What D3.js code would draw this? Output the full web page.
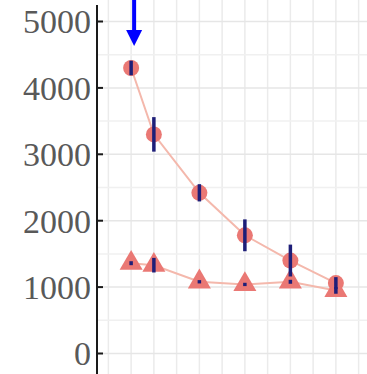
<!DOCTYPE html>
<html>
<head>
  <script src="https://cdnjs.cloudflare.com/ajax/libs/d3/7.8.5/d3.min.js"></script>
  <style>
    body { margin: 0; background: #fff; }
  </style>
</head>
<body>
<script>
  // data
  var xVals = [0, 1, 3, 5, 7, 9];
  var circleVals = [4300, 3300, 2420, 1780, 1400, 1060];
  var circleErr = [110, 260, 130, 240, 240, 90];
  var triVals = [1360, 1330, 1080, 1040, 1080, 950];
  var triErr = [30, 110, 25, 25, 30, 50];
  var yTicks = [0, 1000, 2000, 3000, 4000, 5000];

  var w = 367, h = 374;

  var svg = d3.select("body").append("svg")
    .attr("width", w)
    .attr("height", h);

  var x = d3.scaleLinear().domain([-1.5, 10.5]).range([97, 370]);
  var y = d3.scaleLinear().domain([0, 5000]).range([353.5, 21.5]);

  // grid
  var grid = svg.append("g");
  grid.selectAll("line.v")
    .data(d3.range(-1, 11))
    .enter().append("line")
    .attr("x1", d => x(d)).attr("x2", d => x(d))
    .attr("y1", 0).attr("y2", h)
    .attr("stroke", "#ebebeb")
    .attr("stroke-width", 1.5);
  grid.selectAll("line.h")
    .data(d3.range(0, 5001, 500))
    .enter().append("line")
    .attr("x1", 97).attr("x2", w)
    .attr("y1", d => y(d)).attr("y2", d => y(d))
    .attr("stroke", d => d % 1000 == 0 ? "#e6e6e6" : "#f0f0f0")
    .attr("stroke-width", 1.5);

  var circData = xVals.map((d, i) => [d, circleVals[i], circleErr[i]]);
  var triData = xVals.map((d, i) => [d, triVals[i], triErr[i]]);

  var line = d3.line().x(d => x(d[0])).y(d => y(d[1]));

  svg.append("path").datum(circData)
    .attr("d", line)
    .attr("fill", "none")
    .attr("stroke", "#f4b8ac")
    .attr("stroke-width", 2);
  svg.append("path").datum(triData)
    .attr("d", line)
    .attr("fill", "none")
    .attr("stroke", "#f4b8ac")
    .attr("stroke-width", 2);

  var markColor = "#ea7874";

  svg.selectAll("circle.pt")
    .data(circData)
    .enter().append("circle")
    .attr("cx", d => x(d[0]))
    .attr("cy", d => y(d[1]))
    .attr("r", 8)
    .attr("fill", markColor);

  svg.selectAll("path.tri")
    .data(triData)
    .enter().append("path")
    .attr("d", d3.symbol().type(d3.symbolTriangle).size(230))
    .attr("transform", d => "translate(" + x(d[0]) + "," + y(d[1]) + ")")
    .attr("fill", markColor);

  // error bars
  svg.selectAll("line.err")
    .data(circData.concat(triData))
    .enter().append("line")
    .attr("x1", d => x(d[0])).attr("x2", d => x(d[0]))
    .attr("y1", d => y(d[1] - d[2])).attr("y2", d => y(d[1] + d[2]))
    .attr("stroke", "#1e1e78")
    .attr("stroke-width", 3.5);

  // y axis
  svg.append("line")
    .attr("x1", 97).attr("x2", 97)
    .attr("y1", 5).attr("y2", h)
    .attr("stroke", "#1a1a1a")
    .attr("stroke-width", 2);

  var ax = svg.selectAll("g.tick")
    .data(yTicks)
    .enter().append("g")
    .attr("transform", d => "translate(0," + y(d) + ")");
  ax.append("line")
    .attr("x1", 97).attr("x2", 103)
    .attr("stroke", "#1a1a1a")
    .attr("stroke-width", 2);
  ax.append("text")
    .attr("x", 91)
    .attr("dy", "0.35em")
    .attr("text-anchor", "end")
    .attr("font-family", "Liberation Serif, serif")
    .attr("font-size", 34)
    .attr("fill", "#595959")
    .text(d => d);

  // arrow
  var ax0 = x(0) + 3;
  svg.append("line")
    .attr("x1", ax0).attr("x2", ax0)
    .attr("y1", 0).attr("y2", 34)
    .attr("stroke", "#0000ff")
    .attr("stroke-width", 4);
  svg.append("path")
    .attr("d", "M" + (ax0 - 8) + ",30 L" + (ax0 + 8) + ",30 L" + ax0 + ",46 Z")
    .attr("fill", "#0000ff");
</script>
</body>
</html>
